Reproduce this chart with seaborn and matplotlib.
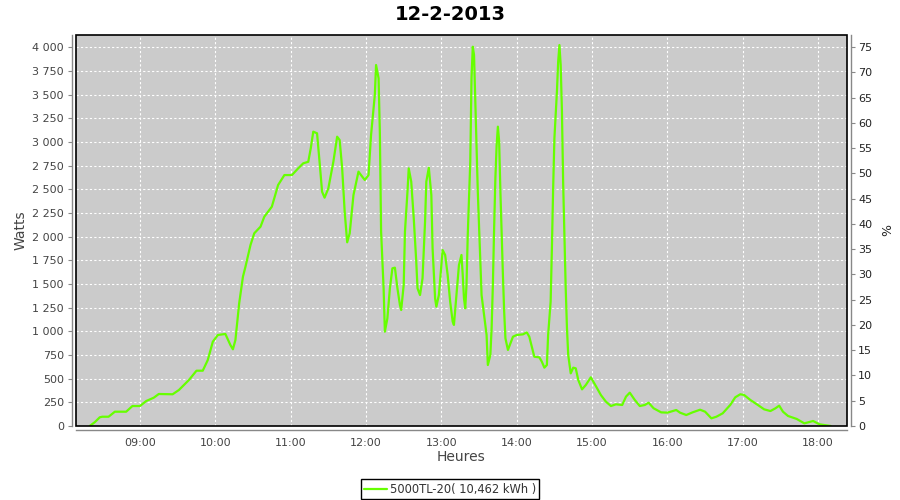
import pandas as pd
import numpy as np
import matplotlib.pyplot as plt
import matplotlib.dates as mdates
from matplotlib.ticker import FuncFormatter, MultipleLocator
from matplotlib.patches import Rectangle
import seaborn as sns

# inverter output
times = ['08:20', '08:24', '08:28', '08:30', '08:35', '08:40', '08:49', '08:54', '09:00', '09:05',
         '09:11', '09:15', '09:26', '09:31', '09:39', '09:45', '09:50', '09:54', '09:58', '10:02',
         '10:08', '10:12', '10:14', '10:16', '10:19', '10:22', '10:24', '10:28', '10:31', '10:36',
         '10:39', '10:45', '10:50', '10:55', '11:01', '11:06', '11:10', '11:14', '11:16', '11:18',
         '11:21', '11:23', '11:25', '11:27', '11:30', '11:34', '11:37', '11:39', '11:41', '11:43',
         '11:45', '11:47', '11:50', '11:54', '11:56', '11:59', '12:02', '12:04', '12:07', '12:08',
         '12:10', '12:11', '12:12', '12:14', '12:15', '12:17', '12:19', '12:21', '12:23', '12:25',
         '12:27', '12:28', '12:30', '12:31', '12:33', '12:34', '12:36', '12:38', '12:40', '12:41',
         '12:43', '12:45', '12:47', '12:48', '12:50', '12:52', '12:53', '12:55', '12:56', '12:58',
         '13:00', '13:01', '13:03', '13:05', '13:07', '13:09', '13:10', '13:12', '13:14', '13:16',
         '13:17', '13:18', '13:19', '13:20', '13:21', '13:23', '13:24', '13:25', '13:26', '13:27',
         '13:29', '13:31', '13:32', '13:34', '13:36', '13:37', '13:39', '13:40', '13:41', '13:42',
         '13:43', '13:44', '13:45', '13:46', '13:47', '13:48', '13:49', '13:50', '13:51', '13:53',
         '13:54', '13:57', '14:00', '14:05', '14:08', '14:10', '14:12', '14:14', '14:18', '14:20',
         '14:22', '14:24', '14:25', '14:27', '14:28', '14:29', '14:30', '14:32', '14:33', '14:34',
         '14:35', '14:36', '14:37', '14:38', '14:39', '14:40', '14:41', '14:43', '14:45', '14:47',
         '14:49', '14:52', '14:55', '14:59', '15:03', '15:07', '15:11', '15:15', '15:19', '15:24',
         '15:27', '15:30', '15:34', '15:38', '15:42', '15:45', '15:49', '15:55', '16:00', '16:07',
         '16:10', '16:15', '16:20', '16:26', '16:30', '16:35', '16:39', '16:44', '16:50', '16:54',
         '16:58', '17:01', '17:06', '17:12', '17:17', '17:22', '17:26', '17:29', '17:32', '17:36',
         '17:43', '17:49', '17:56', '18:01', '18:10']
watts = [0, 40, 92, 98, 98, 151, 151, 211, 211, 264,
         299, 338, 335, 380, 486, 584, 584, 697, 890, 961,
         972, 855, 810, 908, 1296, 1577, 1682, 1911, 2035, 2105,
         2210, 2316, 2545, 2650, 2650, 2721, 2774, 2790, 2933, 3108,
         3091, 2791, 2474, 2411, 2510, 2791, 3055, 3020, 2721, 2263,
         1940, 2035, 2439, 2686, 2650, 2598, 2650, 3073, 3495, 3812,
         3672, 3108, 2052, 1454, 996, 1137, 1454, 1665, 1672, 1454,
         1278, 1225, 1489, 2052, 2474, 2721, 2580, 2193, 1735, 1454,
         1383, 1560, 2158, 2580, 2728, 2439, 1876, 1348, 1260, 1383,
         1700, 1858, 1806, 1595, 1313, 1102, 1067, 1383, 1700, 1806,
         1595, 1348, 1243, 1489, 2017, 2791, 3672, 4005, 3918, 3425,
         2474, 1735, 1383, 1172, 961, 644, 750, 1032, 1489, 2088,
         2616, 2967, 3161, 3003, 2474, 2017, 1595, 1207, 926, 803,
         838, 943, 961, 968, 989, 943, 838, 732, 725, 679,
         616, 644, 961, 1313, 1876, 2510, 3038, 3530, 3847, 4023,
         3812, 3319, 2545, 2017, 1454, 1032, 750, 556, 616, 609,
         486, 387, 433, 514, 422, 327, 257, 211, 229, 222,
         310, 352, 275, 211, 222, 246, 187, 144, 141, 169,
         141, 116, 144, 172, 151, 81, 98, 134, 222, 303,
         335, 328, 275, 222, 176, 158, 187, 215, 151, 106,
         74, 28, 53, 18, 0]
series_label = '5000TL-20( 10,462 kWh )'
hour_ticks = ['09:00', '10:00', '11:00', '12:00', '13:00', '14:00', '15:00', '16:00', '17:00', '18:00']

day = '2013-02-12 '
df = pd.DataFrame({'time': pd.to_datetime([day + t for t in times]), 'watts': watts})

sns.set_style('white', {'axes.facecolor': '#cbcbcb'})
plt.rcParams['font.family'] = ['DejaVu Sans']

fig = plt.figure(figsize=(9, 5), dpi=100)
ax = fig.add_axes([75.5 / 900, 74 / 500, 771 / 900, 391 / 500])

sns.lineplot(data=df, x='time', y='watts', ax=ax, color='#66ff00', linewidth=1.6,
             estimator=None, sort=False, label=series_label)
ax.get_legend().remove()

wmax = 4129
ax.set_ylim(0, wmax)
ax.set_xlim(pd.Timestamp(day + '08:08:40'), pd.Timestamp(day + '18:22:35'))
ax.yaxis.set_major_locator(MultipleLocator(250))
ax.yaxis.set_major_formatter(FuncFormatter(lambda v, p: f'{int(v):,}'.replace(',', ' ')))
ax.set_xticks(pd.to_datetime([day + t for t in hour_ticks]))
ax.xaxis.set_major_formatter(mdates.DateFormatter('%H:%M'))

ax.grid(True, color='white', linestyle=(0, (2, 2)), linewidth=0.8)
ax.set_axisbelow(True)

ax2 = ax.twinx()
ax2.set_ylim(0, wmax * 75 / 4000)
ax2.yaxis.set_major_locator(MultipleLocator(5))
ax2.grid(False)

off = 4 * 0.72
for a in (ax, ax2):
    for s in ('left', 'bottom', 'right'):
        a.spines[s].set_position(('outward', off))
        a.spines[s].set_color('#888888')
        a.spines[s].set_linewidth(1)
    a.spines['top'].set_visible(False)
ax.spines['right'].set_visible(False)
ax2.spines['left'].set_visible(False)
ax2.spines['bottom'].set_visible(False)

ax.tick_params(axis='both', direction='out', length=3, width=0.8, color='#888888',
               labelsize=8, labelcolor='#444444', pad=2.5)
ax2.tick_params(axis='y', direction='out', length=3, width=0.8, color='#888888',
                labelsize=8, labelcolor='#222222', pad=2.5)

ax2.add_patch(Rectangle((0, 0), 1, 1, transform=ax2.transAxes, fill=False,
                        edgecolor='black', linewidth=1.2, clip_on=False, zorder=10))

ax.set_xlabel('Heures', fontsize=10, color='#444444')
ax.set_ylabel('Watts', fontsize=10, color='#444444')
ax2.set_ylabel('%', fontsize=9, color='#222222', rotation=90)
ax.xaxis.set_label_coords(0.5, -0.062)
ax.yaxis.set_label_coords(-0.062, 0.5)
ax2.yaxis.set_label_coords(1.045, 0.5)

fig.suptitle('12-2-2013', fontsize=14, fontweight='bold', color='black', y=0.972, va='center')

line = ax.get_lines()[0]
leg = fig.legend([line], [series_label], loc='lower center', bbox_to_anchor=(0.5, 0.002),
                 fontsize=8.3, frameon=True, fancybox=False, edgecolor='black', facecolor='white',
                 framealpha=1, borderpad=0.3, handlelength=2.0, handletextpad=0.2, borderaxespad=0)
leg.get_frame().set_linewidth(1)
for t in leg.get_texts():
    t.set_color('#333333')

fig.savefig('out.png', dpi=100, facecolor='white')
